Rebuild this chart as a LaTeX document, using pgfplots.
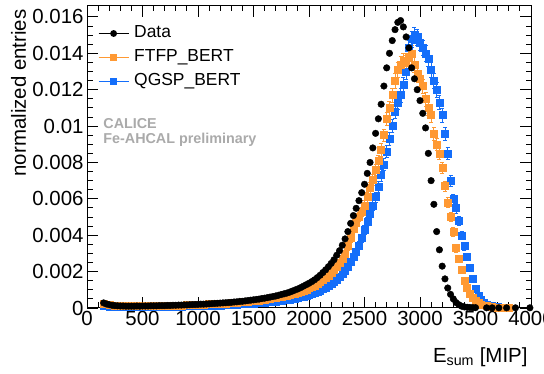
\documentclass[border=0pt]{standalone}
\usepackage{fontspec}
\setmainfont{Liberation Sans}
\usepackage{pgfplots}
\usepackage{pgfplotstable}
\pgfplotsset{compat=1.18}
\definecolor{ftfp}{RGB}{255,153,51}
\definecolor{qgsp}{RGB}{20,110,250}
\definecolor{calgray}{RGB}{170,170,170}

\pgfplotstableread{
x y
150 0.00028
175 0.00022
200 0.00018
225 0.00015
250 0.00013
275 0.00012
300 0.00011
325 0.00011
350 0.00010
375 0.00010
400 0.00010
425 0.00010
450 0.00011
475 0.00010
500 0.00011
525 0.00011
550 0.00011
575 0.00012
600 0.00012
625 0.00012
650 0.00013
675 0.00013
700 0.00013
725 0.00014
750 0.00014
775 0.00015
800 0.00015
825 0.00016
850 0.00016
875 0.00017
900 0.00017
925 0.00018
950 0.00019
975 0.00019
1000 0.00020
1025 0.00021
1050 0.00021
1075 0.00022
1100 0.00023
1125 0.00024
1150 0.00025
1175 0.00026
1200 0.00027
1225 0.00028
1250 0.00029
1275 0.00030
1300 0.00031
1325 0.00033
1350 0.00034
1375 0.00036
1400 0.00037
1425 0.00039
1450 0.00041
1475 0.00043
1500 0.00045
1525 0.00047
1550 0.00049
1575 0.00052
1600 0.00054
1625 0.00057
1650 0.00060
1675 0.00063
1700 0.00066
1725 0.00070
1750 0.00074
1775 0.00078
1800 0.00082
1825 0.00087
1850 0.00093
1875 0.00099
1900 0.00105
1925 0.00112
1950 0.00120
1975 0.00128
2000 0.00136
2025 0.00145
2050 0.00155
2075 0.00167
2100 0.00180
2125 0.00195
2150 0.00210
2175 0.00227
2200 0.00245
2225 0.00265
2250 0.00290
2275 0.00315
2300 0.00345
2325 0.00380
2350 0.00420
2375 0.00465
2400 0.00508
2425 0.00548
2450 0.00590
2475 0.00634
2500 0.00680
2525 0.00740
2550 0.00800
2575 0.00880
2600 0.00960
2625 0.01040
2650 0.01120
2675 0.01220
2700 0.01320
2725 0.01400
2750 0.01470
2775 0.01530
2800 0.01570
2825 0.01580
2850 0.01545
2875 0.01490
2900 0.01430
2925 0.01320
2950 0.01260
2975 0.01200
3000 0.01140
3025 0.01070
3050 0.00990
3075 0.00850
3100 0.00700
3125 0.00570
3150 0.00420
3175 0.00320
3200 0.00230
3225 0.00160
3250 0.00110
3275 0.00075
3300 0.00050
3325 0.00030
3350 0.00018
3375 0.00010
3400 0.00006
3425 0.00004
3450 0.00003
3475 0.00002
3500 0.00002
3600 0.00001
3650 0.00001
3710 0.00001
3780 0.00001
3860 0.00001
3990 0.00001
}\datatab

\pgfplotstableread{
x y
150 0.00022
200 0.00016
250 0.00013
300 0.00011
350 0.00010
400 0.00010
450 0.00010
500 0.00010
550 0.00011
600 0.00011
650 0.00012
700 0.00012
750 0.00013
800 0.00014
850 0.00015
900 0.00016
950 0.00017
1000 0.00018
1050 0.00019
1100 0.00021
1150 0.00022
1200 0.00024
1250 0.00026
1300 0.00028
1350 0.00030
1400 0.00033
1450 0.00036
1500 0.00039
1550 0.00042
1600 0.00046
1650 0.00050
1700 0.00055
1750 0.00061
1800 0.00068
1825 0.00072
1850 0.00076
1875 0.00080
1900 0.00085
1925 0.00090
1950 0.00096
1975 0.00102
2000 0.00109
2025 0.00117
2050 0.00125
2075 0.00134
2100 0.00144
2125 0.00155
2150 0.00167
2175 0.00180
2200 0.00194
2225 0.00210
2250 0.00228
2275 0.00248
2300 0.00270
2325 0.00300
2350 0.00340
2375 0.00385
2400 0.00435
2425 0.00470
2450 0.00500
2475 0.00530
2500 0.00565
2525 0.00610
2550 0.00660
2575 0.00705
2600 0.00760
2625 0.00810
2650 0.00870
2675 0.00950
2700 0.01040
2725 0.01100
2750 0.01170
2775 0.01250
2800 0.01310
2825 0.01340
2850 0.01360
2875 0.01350
2900 0.01380
2925 0.01400
2950 0.01340
2975 0.01290
3000 0.01260
3025 0.01220
3050 0.01150
3075 0.01100
3100 0.01060
3125 0.00960
3150 0.00900
3175 0.00850
3200 0.00770
3225 0.00670
3250 0.00580
3275 0.00500
3300 0.00420
3325 0.00330
3350 0.00270
3375 0.00210
3400 0.00150
3425 0.00110
3450 0.00080
3475 0.00055
3500 0.00040
3525 0.00030
3550 0.00020
3600 0.00012
3650 0.00007
3700 0.00004
3750 0.00002
3800 0.00001
}\ftfptab

\pgfplotstableread{
x y
150 0.00012
200 0.00009
250 0.00007
300 0.00006
350 0.00006
400 0.00006
450 0.00006
500 0.00006
550 0.00007
600 0.00007
650 0.00007
700 0.00008
750 0.00008
800 0.00009
850 0.00009
900 0.00010
950 0.00011
1000 0.00012
1050 0.00012
1100 0.00013
1150 0.00014
1200 0.00015
1250 0.00016
1300 0.00018
1350 0.00019
1400 0.00021
1450 0.00023
1500 0.00025
1550 0.00027
1600 0.00030
1650 0.00033
1700 0.00036
1750 0.00040
1800 0.00044
1825 0.00047
1850 0.00050
1875 0.00053
1900 0.00056
1925 0.00060
1950 0.00064
1975 0.00068
2000 0.00073
2025 0.00078
2050 0.00084
2075 0.00090
2100 0.00097
2125 0.00104
2150 0.00112
2175 0.00121
2200 0.00131
2225 0.00142
2250 0.00155
2275 0.00170
2300 0.00187
2325 0.00206
2350 0.00228
2375 0.00252
2400 0.00280
2425 0.00310
2450 0.00345
2475 0.00385
2500 0.00430
2525 0.00475
2550 0.00520
2575 0.00565
2600 0.00610
2625 0.00665
2650 0.00730
2675 0.00790
2700 0.00860
2725 0.00930
2750 0.01000
2775 0.01080
2800 0.01130
2825 0.01170
2850 0.01230
2875 0.01300
2900 0.01430
2925 0.01480
2950 0.01500
2975 0.01490
3000 0.01460
3025 0.01430
3050 0.01400
3075 0.01370
3100 0.01310
3125 0.01250
3150 0.01200
3175 0.01130
3200 0.01060
3225 0.00960
3250 0.00850
3275 0.00700
3300 0.00600
3325 0.00550
3350 0.00480
3375 0.00400
3400 0.00340
3425 0.00280
3450 0.00220
3475 0.00160
3500 0.00105
3525 0.00070
3550 0.00045
3575 0.00030
3600 0.00020
3650 0.00010
3700 0.00005
3750 0.00002
}\qgsptab

\begin{document}
\begin{tikzpicture}
\begin{axis}[
  scale only axis,
  width=444bp, height=302bp,
  xmin=0, xmax=4000, ymin=0, ymax=0.0166,
  xtick={0,500,1000,1500,2000,2500,3000,3500,4000},
  xticklabels={0,500,1000,1500,2000,2500,3000,3500,4000},
  ytick={0,0.002,0.004,0.006,0.008,0.01,0.012,0.014,0.016},
  yticklabels={0,0.002,0.004,0.006,0.008,0.01,0.012,0.014,0.016},
  minor x tick num=4, minor y tick num=3,
  tick align=inside,
  major tick length=11bp, minor tick length=5.5bp,
  tick style={black, line width=0.9bp},
  axis line style={line width=1bp},
  ticklabel style={font=\fontsize{20.5}{20.5}\selectfont},
  /pgf/number format/assume math mode=true,
  legend cell align=left,
  legend image code/.code={\draw[mark repeat=2,mark phase=2] plot coordinates {(0bp,0bp) (15bp,0bp) (30bp,0bp)};},
  legend style={draw=none, fill=none, at={(0,1)}, anchor=north west,
    xshift=11bp, yshift=-19bp, inner sep=0pt, outer sep=0pt,
    font=\fontsize{17.5}{17.5}\selectfont,
    row sep=7bp, column sep=5bp,
    nodes={inner sep=0pt, text height=13bp, text depth=4bp}},
]
\addlegendimage{black, mark=*, mark size=2.8bp, line width=1.2bp}
\addlegendentry{Data}
\addlegendimage{ftfp, mark=square*, mark size=2.8bp, line width=1.2bp}
\addlegendentry{FTFP\_BERT}
\addlegendimage{qgsp, mark=square*, mark size=2.8bp, line width=1.2bp}
\addlegendentry{QGSP\_BERT}

\addplot[only marks, mark=square*, mark size=3.5bp, qgsp, forget plot,
  error bars/.cd, y dir=both, y explicit,
  error bar style={line width=0.9bp, qgsp}, error mark options={qgsp, mark size=2bp, rotate=90}]
  table[y error expr={0.0036*sqrt(\thisrow{y})}] {\qgsptab};
\addplot[only marks, mark=square*, mark size=3.5bp, ftfp, forget plot,
  error bars/.cd, y dir=both, y explicit,
  error bar style={line width=0.9bp, ftfp}, error mark options={ftfp, mark size=2bp, rotate=90}]
  table[y error expr={0.0036*sqrt(\thisrow{y})}] {\ftfptab};
\addplot[only marks, mark=*, mark size=3.3bp, black, forget plot] table {\datatab};

\node[anchor=base west, text=calgray, font=\fontsize{14.4}{14.4}\selectfont\bfseries] at (rel axis cs:0.029,0.593) {CALICE};
\node[anchor=base west, text=calgray, font=\fontsize{14.4}{14.4}\selectfont\bfseries] at (rel axis cs:0.029,0.546) {Fe-AHCAL preliminary};
\end{axis}
\node[rotate=90, anchor=base east, font=\fontsize{20.5}{20.5}\selectfont] at ([xshift=-61bp]current axis.north west) {normalized entries};
\node[anchor=base east, font=\fontsize{20.5}{20.5}\selectfont] at ([yshift=-54bp]current axis.south east) {E\textsubscript{sum} [MIP]};
\pgfresetboundingbox
\useasboundingbox ([xshift=-87bp,yshift=-66bp]current axis.south west) rectangle ([xshift=13bp,yshift=6bp]current axis.north east);
\end{tikzpicture}
\end{document}
